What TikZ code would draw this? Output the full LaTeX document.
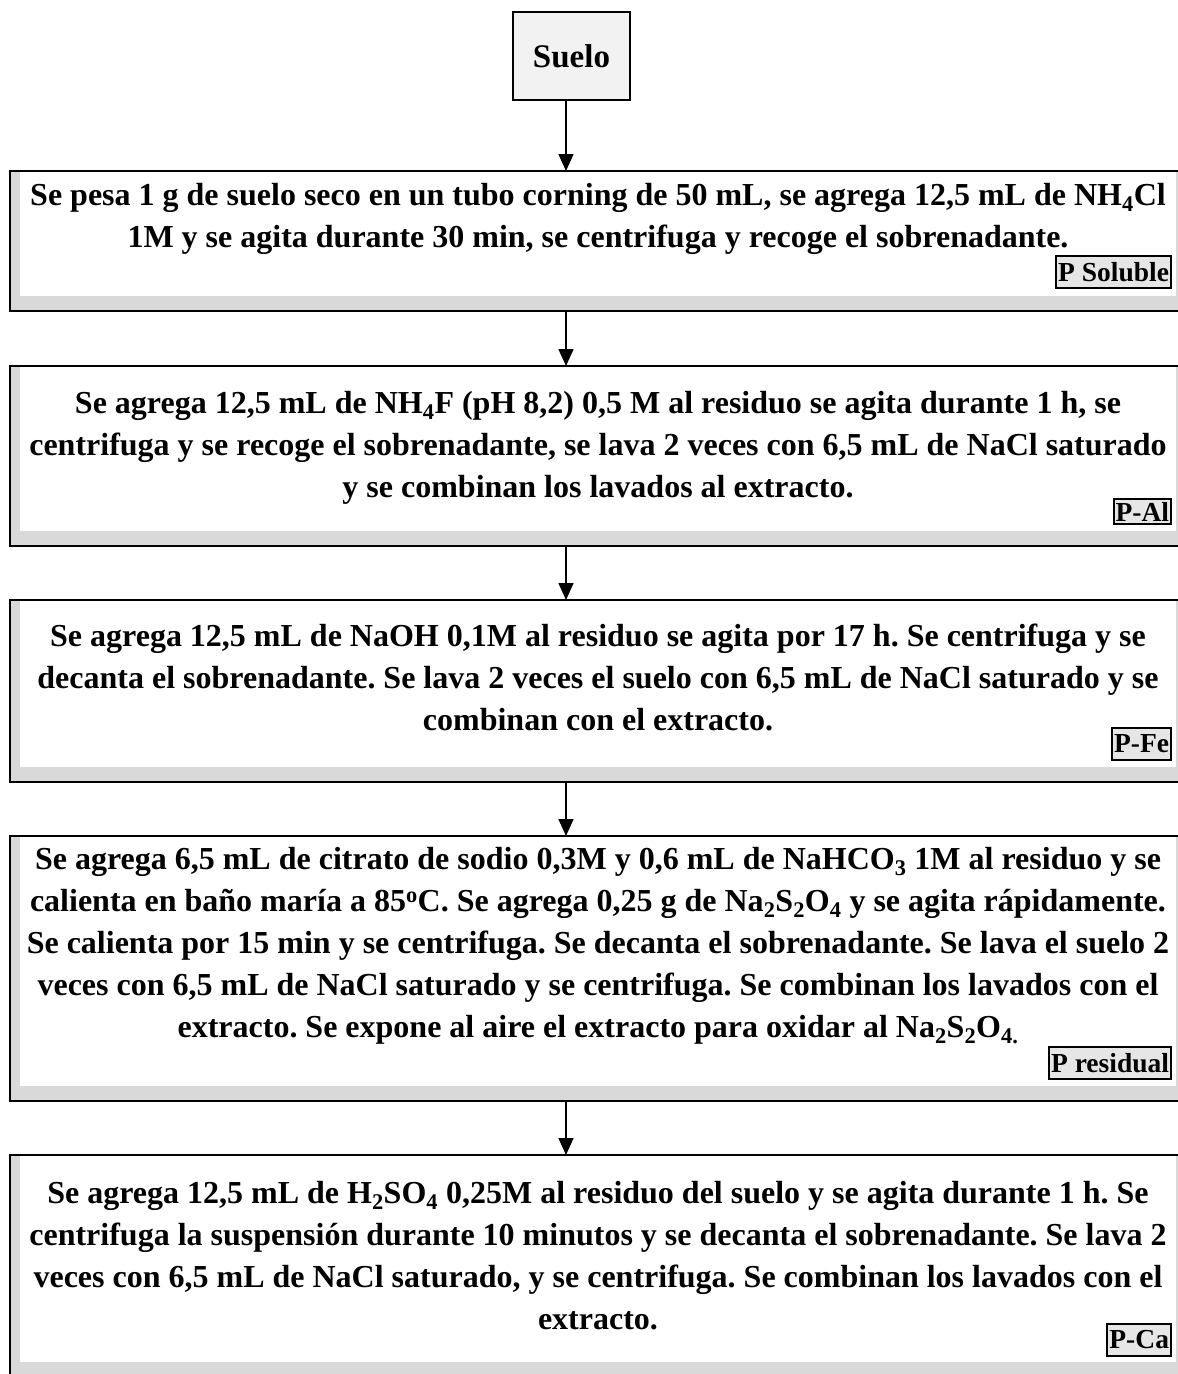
\documentclass[tikz,border=0pt]{standalone}
\usepackage{fontspec}
\setmainfont{Liberation Serif}
\usetikzlibrary{arrows.meta}
\definecolor{framegray}{HTML}{D9D9D9}
\definecolor{labelgray}{HTML}{E6E6E6}
\definecolor{suelogray}{HTML}{F2F2F2}
\tikzset{
  framebox/.style={draw=none, fill=framegray, minimum width=1170, inner sep=0, outer sep=0,
    anchor=north west,
    path picture={\fill[white] ([xshift=10]path picture bounding box.north west) rectangle ([xshift=-4,yshift=15]path picture bounding box.south east);}},
  frameline/.style={line width=2pt, black},
  steptext/.style={align=center, inner sep=0, anchor=north, font=\fontsize{32}{42}\selectfont\bfseries},
  tag/.style={draw, line width=2pt, fill=labelgray, inner xsep=2pt, inner ysep=0pt, minimum height=32, anchor=south east, font=\fontsize{27.5}{30}\selectfont\bfseries},
  arr/.style={line width=1.6pt, -{Triangle[length=17pt,width=15pt]}},
}
\newcommand{\fr}[1]{\draw[frameline] (#1.north east) -- (#1.north west) -- (#1.south west) -- (#1.south east);}
\begin{document}
\frenchspacing
\begin{tikzpicture}[x=1pt,y=-1pt]
\useasboundingbox (0,0) rectangle (1178,1374);
\coordinate (ax) at (566,0);
% Suelo
\node[draw, line width=2pt, fill=suelogray, minimum width=117, minimum height=88, inner sep=0,
  font=\fontsize{33}{36}\selectfont\bfseries] (suelo) at (571.5,56) {Suelo};
% frames
\node[framebox, minimum height=140] (b1) at (10,171) {}; \fr{b1}
\node[framebox, minimum height=180] (b2) at (10,366) {}; \fr{b2}
\node[framebox, minimum height=182] (b3) at (10,600) {}; \fr{b3}
\node[framebox, minimum height=265] (b4) at (10,836) {}; \fr{b4}
\node[framebox, minimum height=222] (b5) at (10,1155) {}; \fr{b5}
% texts
\node[steptext] (t1) at (598,182) {\rule{0pt}{23pt}Se pesa 1 g de suelo seco en un tubo corning de 50 mL, se agrega 12,5 mL de NH\textsubscript{4}Cl\\1M y se agita durante 30 min, se centrifuga y recoge el sobrenadante.};
\node[steptext] (t2) at (598,390) {\rule{0pt}{23pt}Se agrega 12,5 mL de NH\textsubscript{4}F (pH 8,2) 0,5 M al residuo se agita durante 1 h, se\\centrifuga y se recoge el sobrenadante, se lava 2 veces con 6,5 mL de NaCl saturado\\y se combinan los lavados al extracto.};
\node[steptext] (t3) at (598,623) {\rule{0pt}{23pt}Se agrega 12,5 mL de NaOH 0,1M al residuo se agita por 17 h. Se centrifuga y se\\decanta el sobrenadante. Se lava 2 veces el suelo con 6,5 mL de NaCl saturado y se\\combinan con el extracto.};
\node[steptext] (t4) at (598,846) {\rule{0pt}{23pt}Se agrega 6,5 mL de citrato de sodio 0,3M y 0,6 mL de NaHCO\textsubscript{3} 1M al residuo y se\\calienta en baño maría a 85\textsuperscript{o}C. Se agrega 0,25 g de Na\textsubscript{2}S\textsubscript{2}O\textsubscript{4} y se agita rápidamente.\\Se calienta por 15 min y se centrifuga. Se decanta el sobrenadante. Se lava el suelo 2\\veces con 6,5 mL de NaCl saturado y se centrifuga. Se combinan los lavados con el\\extracto. Se expone al aire el extracto para oxidar al Na\textsubscript{2}S\textsubscript{2}O\textsubscript{4.}};
\node[steptext] (t5) at (598,1180) {\rule{0pt}{23pt}Se agrega 12,5 mL de H\textsubscript{2}SO\textsubscript{4} 0,25M al residuo del suelo y se agita durante 1 h. Se\\centrifuga la suspensión durante 10 minutos y se decanta el sobrenadante. Se lava 2\\veces con 6,5 mL de NaCl saturado, y se centrifuga. Se combinan los lavados con el\\extracto.};
% tags
\node[tag] (l1) at (1172,289) {P Soluble};
\node[tag, minimum height=25] (l2) at (1172,525) {P-Al};
\node[tag] (l3) at (1172,761) {P-Fe};
\node[tag] (l4) at (1172,1080) {P residual};
\node[tag] (l5) at (1172,1357) {P-Ca};
% arrows
\draw[arr] (suelo.south -| ax) -- (b1.north -| ax);
\draw[arr] (b1.south -| ax) -- (b2.north -| ax);
\draw[arr] (b2.south -| ax) -- (b3.north -| ax);
\draw[arr] (b3.south -| ax) -- (b4.north -| ax);
\draw[arr] (b4.south -| ax) -- (b5.north -| ax);
\end{tikzpicture}
\end{document}
